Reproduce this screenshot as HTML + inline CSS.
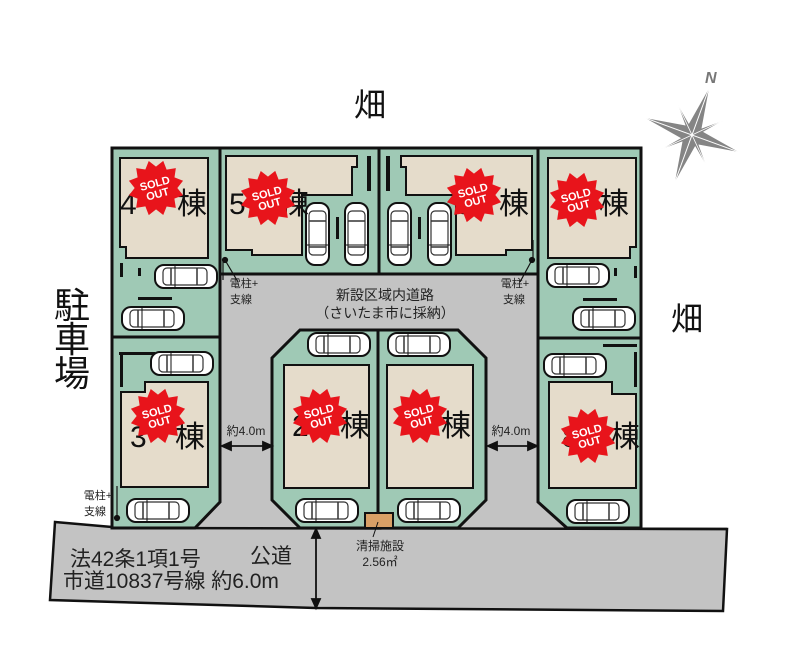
<!DOCTYPE html>
<html><head><meta charset="utf-8"><style>
html,body{margin:0;padding:0;background:#fff;}
svg{display:block;}
text{font-family:"Liberation Sans","Noto Sans CJK JP",sans-serif;}
</style></head><body>
<svg width="800" height="661" viewBox="0 0 800 661" xmlns="http://www.w3.org/2000/svg">
<defs>
<g id="carh">
<rect x="0" y="0" width="62" height="23" rx="9" fill="#fff" stroke="#111" stroke-width="2"/>
<rect x="8" y="3" width="44" height="17" rx="4" fill="#fff" stroke="#333" stroke-width="1.2"/>
<line x1="16" y1="3" x2="16" y2="20" stroke="#333" stroke-width="1.5"/>
<line x1="42" y1="3" x2="42" y2="20" stroke="#333" stroke-width="1.5"/>
<line x1="20" y1="0" x2="20" y2="23" stroke="#111" stroke-width="1"/>
</g>
<g id="carv">
<rect x="0" y="0" width="23" height="62" rx="9" fill="#fff" stroke="#111" stroke-width="2"/>
<rect x="3" y="8" width="17" height="44" rx="4" fill="#fff" stroke="#333" stroke-width="1.2"/>
<line x1="3" y1="18" x2="20" y2="18" stroke="#333" stroke-width="1.5"/>
<line x1="3" y1="44" x2="20" y2="44" stroke="#333" stroke-width="1.5"/>
<line x1="0" y1="42" x2="23" y2="42" stroke="#111" stroke-width="1"/>
</g>
<g id="sold">
<polygon fill="#e8141b" transform="scale(1.12)" points="25,0 18.4,4.9 21.7,12.5 13.4,13.4 12.5,21.7 4.9,18.4 0,25 -4.9,18.4 -12.5,21.7 -13.4,13.4 -21.7,12.5 -18.4,4.9 -25,0 -18.4,-4.9 -21.7,-12.5 -13.4,-13.4 -12.5,-21.7 -4.9,-18.4 0,-25 4.9,-18.4 12.5,-21.7 13.4,-13.4 21.7,-12.5 18.4,-4.9"/>
</g>
</defs>

<!-- public road -->
<polygon points="55,522 112,527 723,529 727,529 723,611 316,608 50,600" fill="#c3c3c3" stroke="#111" stroke-width="2.5"/>
<rect x="112" y="274" width="529" height="256" fill="#c3c3c3"/>
<line x1="112" y1="528" x2="727" y2="529" stroke="#111" stroke-width="2.5"/>

<!-- left column lots -->
<polygon points="112,148 220,148 220,502 195,528 112,528" fill="#9fc9b5" stroke="#111" stroke-width="3"/>
<line x1="112" y1="337" x2="220" y2="337" stroke="#111" stroke-width="3"/>
<!-- top lots 5,6 -->
<rect x="220" y="148" width="318" height="126" fill="#9fc9b5" stroke="#111" stroke-width="3"/>
<line x1="379" y1="148" x2="379" y2="274" stroke="#111" stroke-width="3"/>
<!-- right column -->
<polygon points="538,148 641,148 641,528 567,528 538,502" fill="#9fc9b5" stroke="#111" stroke-width="3"/>
<line x1="538" y1="338" x2="641" y2="338" stroke="#111" stroke-width="3"/>
<!-- island -->
<polygon points="300,330 458,330 486,358 486,500 458,528 300,528 272,500 272,358" fill="#9fc9b5" stroke="#111" stroke-width="3"/>
<line x1="378" y1="330" x2="378" y2="528" stroke="#111" stroke-width="3"/>
<rect x="365" y="513" width="28" height="15" fill="#d9a066" stroke="#111" stroke-width="2"/>

<!-- houses -->
<g fill="#e5dccb" stroke="#111" stroke-width="2">
<polygon points="120,158 208,158 208,258 126,258 126,247 120,247"/>
<polygon points="226,156 357,156 357,167 352,167 352,195 302,195 302,255 252,255 252,250 226,250"/>
<polygon points="532,156 401,156 401,167 406,167 406,195 456,195 456,255 506,255 506,250 532,250"/>
<polygon points="548,158 636,158 636,247 630,247 630,258 548,258"/>
<polygon points="121,397 121,487 208,487 208,382 145,382 145,392 121,392"/>
<polygon points="549,382 612,382 612,394 636,394 636,488 549,488"/>
<rect x="284" y="365" width="85" height="123"/>
<rect x="387" y="365" width="86" height="123"/>
</g>

<!-- small wall marks -->
<g fill="#111">
<rect x="367" y="156" width="4" height="35"/><rect x="386" y="156" width="4" height="35"/>
<rect x="336" y="217" width="3" height="22"/><rect x="418" y="217" width="3" height="22"/>
<rect x="120" y="263" width="3" height="14"/><rect x="138" y="268" width="3" height="8"/>
<rect x="138" y="297" width="34" height="3"/>
<rect x="119" y="352" width="36" height="3"/><rect x="120" y="352" width="3" height="35"/>
<rect x="634" y="266" width="3" height="12"/><rect x="614" y="268" width="3" height="8"/>
<rect x="583" y="298" width="34" height="3"/>
<rect x="603" y="344" width="34" height="3"/><rect x="634" y="352" width="3" height="35"/>
</g>

<!-- cars -->
<use href="#carh" x="155" y="265"/>
<use href="#carh" x="122" y="307"/>
<use href="#carv" x="306" y="203"/>
<use href="#carv" x="345" y="203"/>
<use href="#carv" x="388" y="203"/>
<use href="#carv" x="428" y="203"/>
<use href="#carh" x="547" y="264"/>
<use href="#carh" x="573" y="307"/>
<use href="#carh" x="151" y="352"/>
<use href="#carh" x="127" y="499"/>
<use href="#carh" x="308" y="333"/>
<use href="#carh" x="388" y="333"/>
<use href="#carh" x="296" y="499"/>
<use href="#carh" x="398" y="499"/>
<use href="#carh" x="544" y="354"/>
<use href="#carh" x="567" y="500"/>

<!-- building labels -->
<g font-size="30" fill="#111">
<text x="120" y="214">4</text><text x="177" y="214">棟</text>
<text x="229" y="214">5</text><text x="279" y="214">棟</text>
<text x="455" y="214">6</text><text x="499" y="214">棟</text>
<text x="556" y="214">7</text><text x="599" y="214">棟</text>
<text x="130" y="447">3</text><text x="175" y="447">棟</text>
<text x="292" y="436">2</text><text x="340" y="436">棟</text>
<text x="414" y="436">1</text><text x="441" y="436">棟</text>
<text x="562" y="447">8</text><text x="610" y="447">棟</text>
</g>

<!-- sold out badges -->
<g font-weight="bold" font-size="11" fill="#fff" text-anchor="middle">
<g transform="translate(156,188) rotate(-15)"><use href="#sold"/><text y="-1">SOLD</text><text y="10">OUT</text></g>
<g transform="translate(268,198) rotate(-15)"><use href="#sold"/><text y="-1">SOLD</text><text y="10">OUT</text></g>
<g transform="translate(474,195) rotate(-15)"><use href="#sold"/><text y="-1">SOLD</text><text y="10">OUT</text></g>
<g transform="translate(577,200) rotate(-15)"><use href="#sold"/><text y="-1">SOLD</text><text y="10">OUT</text></g>
<g transform="translate(158,416) rotate(-15)"><use href="#sold"/><text y="-1">SOLD</text><text y="10">OUT</text></g>
<g transform="translate(320,416) rotate(-15)"><use href="#sold"/><text y="-1">SOLD</text><text y="10">OUT</text></g>
<g transform="translate(420,416) rotate(-15)"><use href="#sold"/><text y="-1">SOLD</text><text y="10">OUT</text></g>
<g transform="translate(588,436) rotate(-15)"><use href="#sold"/><text y="-1">SOLD</text><text y="10">OUT</text></g>
</g>

<!-- poles -->
<g stroke="#111" stroke-width="1.2" fill="#111">
<line x1="223" y1="260" x2="223" y2="280"/><circle cx="225" cy="260" r="2.5"/>
<line x1="225" y1="260" x2="238" y2="282"/>
<line x1="533" y1="260" x2="533" y2="240"/><circle cx="532" cy="260" r="2.5"/>
<line x1="532" y1="260" x2="520" y2="282"/>
<line x1="117" y1="518" x2="117" y2="486"/><circle cx="117" cy="518" r="2.5"/>
</g>

<!-- road texts -->
<g fill="#222" text-anchor="middle">
<text x="385" y="300" font-size="14">新設区域内道路</text>
<text x="385" y="318" font-size="14">（さいたま市に採納）</text>
<text x="244" y="287" font-size="11">電柱+</text><text x="241" y="303" font-size="11">支線</text>
<text x="515" y="287" font-size="11">電柱+</text><text x="514" y="303" font-size="11">支線</text>
<text x="98" y="499" font-size="11">電柱+</text><text x="95" y="515" font-size="11">支線</text>
<text x="246" y="435" font-size="12">約4.0m</text>
<text x="511" y="435" font-size="12">約4.0m</text>
<text x="380" y="550" font-size="12">清掃施設</text>
<text x="380" y="566" font-size="12">2.56㎡</text>
</g>
<g stroke="#111" stroke-width="1.8" fill="#111">
<line x1="226" y1="446" x2="268" y2="446"/>
<polygon points="222,446 231,442 231,450"/><polygon points="272,446 263,442 263,450"/>
<line x1="492" y1="446" x2="533" y2="446"/>
<polygon points="488,446 497,442 497,450"/><polygon points="537,446 528,442 528,450"/>
<line x1="316" y1="533" x2="316" y2="604"/>
<polygon points="316,529 312,538 320,538"/><polygon points="316,608 312,599 320,599"/>
<line x1="373" y1="537" x2="378" y2="522" stroke-width="1"/>
</g>
<g fill="#222" font-size="21">
<text x="70" y="566">法42条1項1号</text>
<text x="250" y="563">公道</text>
<text x="63" y="588">市道10837号線 約6.0m</text>
</g>

<!-- field / parking labels -->
<g fill="#111" font-size="32" text-anchor="middle">
<text x="370" y="116">畑</text>
<text x="687" y="330">畑</text>
<text x="72" y="318" font-size="36">駐</text>
<text x="72" y="352" font-size="36">車</text>
<text x="72" y="386" font-size="36">場</text>
</g>

<!-- compass -->
<g transform="translate(692,135) rotate(20)">
<polygon points="0,-52 7,-10 26,-26 10,-7 52,0 10,7 26,26 7,10 0,52 -7,10 -26,26 -10,7 -52,0 -10,-7 -26,-26 -7,-10" fill="#858585" stroke="#fff" stroke-width="0.8"/>
<line x1="0" y1="-52" x2="0" y2="52" stroke="#fff" stroke-width="1"/>
<line x1="-52" y1="0" x2="52" y2="0" stroke="#fff" stroke-width="1"/>
<line x1="-26" y1="-26" x2="26" y2="26" stroke="#fff" stroke-width="0.8"/>
<line x1="-26" y1="26" x2="26" y2="-26" stroke="#fff" stroke-width="0.8"/>
</g>
<text x="705" y="83" font-size="16" font-style="italic" font-weight="bold" fill="#777">N</text>
</svg>
</body></html>
